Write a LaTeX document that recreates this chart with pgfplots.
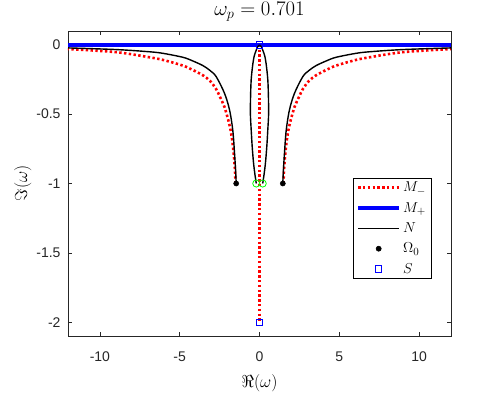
\documentclass[border=0pt]{standalone}
\usepackage{fontspec}
\usepackage{pgfplots}
\pgfplotsset{compat=1.18}
\newfontfamily\arialfont{Liberation Sans}
\definecolor{axgray}{rgb}{0.15,0.15,0.15}
\definecolor{mgreen}{rgb}{0,1,0}
\pgfplotsset{
  lineleg/.style={legend image code/.code={\draw[##1] (0pt,0pt) -- (41pt,0pt);}},
  markleg/.style={legend image code/.code={\draw[##1,mark repeat=2,mark phase=2] plot coordinates {(0pt,0pt) (20.5pt,0pt) (41pt,0pt)};}},
}
\begin{document}
\begin{tikzpicture}
\path[use as bounding box] (-68pt,-59pt) rectangle (431pt,336pt);
\begin{axis}[
  scale only axis,
  width=383pt, height=305pt,
  xmin=-12, xmax=12, ymin=-2.1, ymax=0.1,
  xtick={-10,-5,0,5,10},
  ytick={-2,-1.5,-1,-0.5,0},
  xticklabels={-10,-5,0,5,10},
  yticklabels={-2,-1.5,-1,-0.5,0},
  tick align=inside,
  major tick length=4pt,
  axis line style={axgray, line width=0.6pt},
  tick style={axgray, line width=0.6pt},
  ticklabel style={font=\arialfont\fontsize{14}{16}\selectfont, text=axgray},
  xticklabel style={yshift=-12pt},
  yticklabel style={xshift=-4pt},
  title={$\omega_p = 0.701$},
  title style={font=\fontsize{20}{23}\selectfont, yshift=0pt},
  xlabel={$\Re(\omega)$},
  ylabel={$\Im(\omega)$},
  label style={font=\fontsize{16}{18}\selectfont},
  xlabel style={yshift=-6pt},
  ylabel style={yshift=-2pt},
  legend cell align=left,
  legend style={at={(0.948,0.187)}, anchor=south east, draw=black, line width=0.5pt,
    font=\fontsize{15}{17}\selectfont, row sep=5pt, inner xsep=3pt, inner ysep=2pt},
]
% M_- (red dotted)
\addplot[red, line width=2.6pt, dash pattern=on 2.4pt off 2.4pt, lineleg] coordinates {(0,0) (0,-2)};
\addlegendentry{$M_-$}
\addplot[red, line width=2.6pt, dash pattern=on 2.4pt off 2.4pt, smooth, forget plot] coordinates {
(1.50,-1.0) (1.55,-0.88) (1.62,-0.78) (1.72,-0.68) (1.875,-0.58) (2.19,-0.45) (2.5,-0.37) (2.71,-0.32) (3.1,-0.26) (3.54,-0.22) (4.2,-0.18) (4.79,-0.15) (6.0,-0.11) (6.875,-0.09) (8.96,-0.053) (12,-0.03)};
\addplot[red, line width=2.6pt, dash pattern=on 2.4pt off 2.4pt, smooth, forget plot] coordinates {
(-1.50,-1.0) (-1.55,-0.88) (-1.62,-0.78) (-1.72,-0.68) (-1.875,-0.58) (-2.19,-0.45) (-2.5,-0.37) (-2.71,-0.32) (-3.1,-0.26) (-3.54,-0.22) (-4.2,-0.18) (-4.79,-0.15) (-6.0,-0.11) (-6.875,-0.09) (-8.96,-0.053) (-12,-0.03)};
% M_+ (blue)
\addplot[blue, line width=4pt, lineleg] coordinates {(-12,0) (12,0)};
\addlegendentry{$M_+$}
% N (black)
\addplot[black, line width=1.4pt, smooth, lineleg] coordinates {
(1.46,-1.0) (1.50,-0.90) (1.56,-0.79) (1.67,-0.62) (1.875,-0.47) (2.19,-0.35) (2.71,-0.23) (3.1,-0.185) (3.54,-0.15) (4.2,-0.115) (4.79,-0.09) (6.0,-0.062) (6.875,-0.05) (8.96,-0.034) (12,-0.022)};
\addlegendentry{$N$}
\addplot[black, line width=1.4pt, smooth, forget plot] coordinates {
(-1.46,-1.0) (-1.50,-0.90) (-1.56,-0.79) (-1.67,-0.62) (-1.875,-0.47) (-2.19,-0.35) (-2.71,-0.23) (-3.1,-0.185) (-3.54,-0.15) (-4.2,-0.115) (-4.79,-0.09) (-6.0,-0.062) (-6.875,-0.05) (-8.96,-0.034) (-12,-0.022)};
\addplot[black, line width=1.4pt, smooth, forget plot] coordinates {
(0,0) (0.12,-0.015) (0.22,-0.043) (0.33,-0.08) (0.42,-0.14) (0.52,-0.25) (0.56,-0.376) (0.57,-0.5) (0.52,-0.614) (0.46,-0.73) (0.375,-0.85) (0.28,-0.94) (0.2,-1.0)};
\addplot[black, line width=1.4pt, smooth, forget plot] coordinates {
(0,0) (-0.12,-0.015) (-0.22,-0.043) (-0.33,-0.08) (-0.42,-0.14) (-0.52,-0.25) (-0.56,-0.376) (-0.57,-0.5) (-0.52,-0.614) (-0.46,-0.73) (-0.375,-0.85) (-0.28,-0.94) (-0.2,-1.0)};
% Omega_0
\addplot[only marks, mark=*, mark size=2.6pt, black, markleg] coordinates {(1.46,-1) (-1.46,-1)};
\addlegendentry{$\Omega_0$}
% S
\addplot[only marks, mark=square, mark size=3.2pt, blue, line width=0.8pt, markleg] coordinates {(0,0) (0,-2)};
\addlegendentry{$S$}
% green circles
\addplot[only marks, mark=o, mark size=3.6pt, mgreen, line width=0.8pt, forget plot] coordinates {(0.2,-1) (-0.2,-1)};
\end{axis}
\end{tikzpicture}
\end{document}
